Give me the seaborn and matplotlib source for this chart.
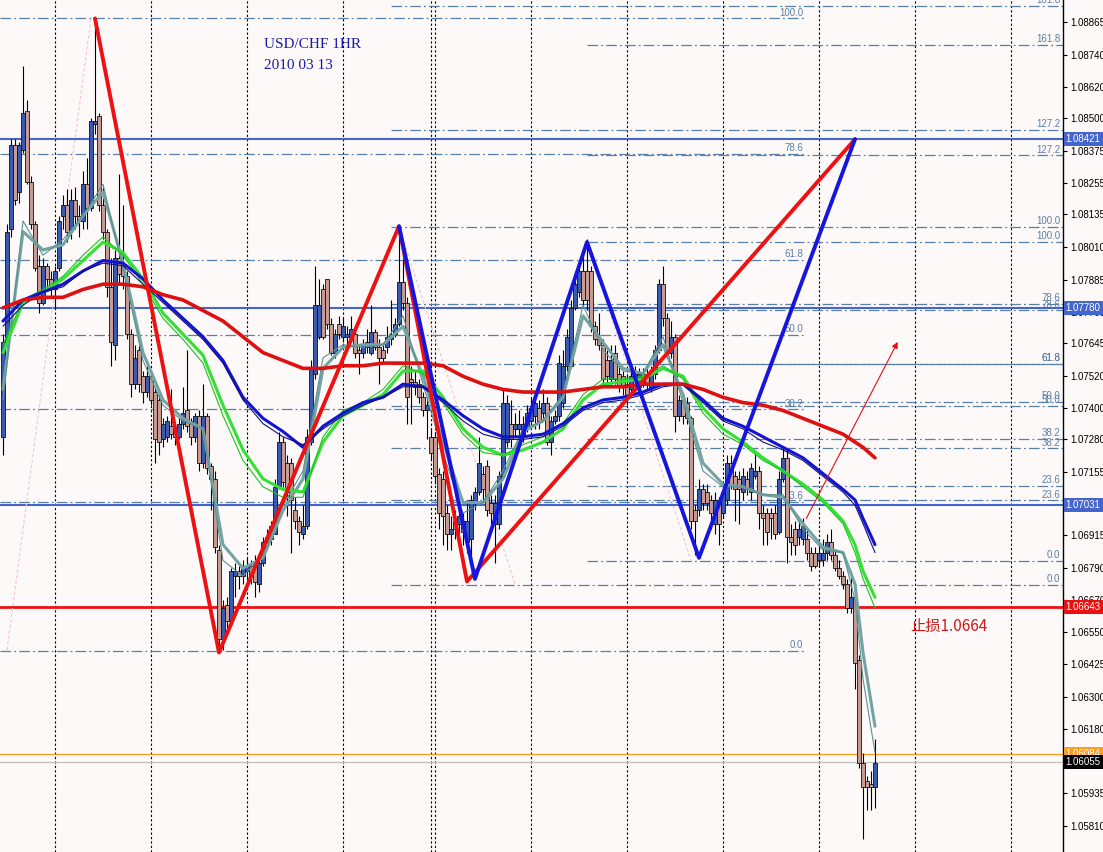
import matplotlib
matplotlib.use("Agg")
import matplotlib.pyplot as plt
import numpy as np
import pandas as pd
import seaborn as sns

# USD/CHF hourly bars, prices in pips (1 pip = 0.0001)
open_pips = [
    10729, 10765, 10808, 10840, 10822, 10838, 10853, 10826, 10810, 10794,
    10780, 10794, 10789, 10785, 10793, 10813, 10817, 10808, 10819, 10813,
    10811, 10825, 10816, 10848, 10851, 10817, 10807, 10786, 10764, 10797,
    10794, 10790, 10768, 10749, 10762, 10752, 10746, 10752, 10746, 10743,
    10728, 10729, 10733, 10731, 10729, 10734, 10739, 10735, 10729, 10737,
    10719, 10737, 10718, 10713, 10686, 10652, 10665, 10659, 10676, 10678,
    10676, 10678, 10680, 10681, 10673, 10681, 10689, 10690, 10692, 10710,
    10727, 10719, 10719, 10701, 10697, 10692, 10695, 10727, 10753, 10767,
    10785, 10789, 10772, 10761, 10772, 10767, 10767, 10767, 10768, 10762,
    10761, 10763, 10761, 10769, 10763, 10762, 10763, 10766, 10768, 10772,
    10788, 10780, 10751, 10750, 10749, 10744, 10739, 10729, 10729, 10715,
    10713, 10700, 10692, 10697, 10696, 10697, 10689, 10690, 10704, 10708,
    10715, 10718, 10704, 10696, 10696, 10714, 10727, 10734, 10732, 10732,
    10729, 10733, 10735, 10737, 10740, 10738, 10742, 10727, 10735, 10737,
    10742, 10756, 10756, 10778, 10784, 10792, 10792, 10792, 10771, 10766,
    10764, 10758, 10751, 10761, 10753, 10752, 10749, 10747, 10751, 10748,
    10753, 10753, 10748, 10753, 10762, 10787, 10774, 10761, 10767, 10737,
    10743, 10742, 10736, 10701, 10701, 10709, 10708, 10705, 10696, 10704,
    10700, 10705, 10719, 10714, 10713, 10708, 10713, 10708, 10714, 10716,
    10700, 10700, 10700, 10700, 10693, 10713, 10721, 10691, 10694, 10691,
    10690, 10690, 10685, 10685, 10682, 10682, 10685, 10689, 10684, 10679,
    10676, 10673, 10664, 10668, 10644, 10605, 10598, 10597, 10596,
]
high_pips = [
    10768, 10810, 10842, 10842, 10841, 10870, 10857, 10828, 10811, 10798,
    10797, 10795, 10792, 10794, 10813, 10821, 10823, 10823, 10824, 10817,
    10830, 10835, 10850, 10888, 10852, 10824, 10808, 10797, 10800, 10829,
    10817, 10792, 10770, 10764, 10764, 10754, 10756, 10754, 10748, 10745,
    10736, 10737, 10747, 10734, 10736, 10748, 10762, 10736, 10738, 10739,
    10749, 10738, 10719, 10716, 10688, 10667, 10668, 10679, 10681, 10680,
    10682, 10683, 10682, 10684, 10683, 10691, 10694, 10697, 10713, 10731,
    10729, 10722, 10721, 10706, 10699, 10703, 10732, 10758, 10794, 10789,
    10787, 10789, 10774, 10770, 10775, 10774, 10771, 10775, 10770, 10764,
    10766, 10770, 10779, 10770, 10766, 10764, 10771, 10781, 10774, 10809,
    10797, 10782, 10756, 10754, 10751, 10746, 10744, 10732, 10731, 10717,
    10716, 10703, 10699, 10701, 10703, 10700, 10705, 10707, 10710, 10729,
    10718, 10720, 10707, 10707, 10716, 10747, 10745, 10743, 10738, 10739,
    10737, 10741, 10744, 10745, 10743, 10747, 10744, 10737, 10739, 10760,
    10762, 10770, 10781, 10792, 10795, 10798, 10804, 10794, 10773, 10776,
    10766, 10762, 10764, 10764, 10756, 10754, 10753, 10754, 10756, 10755,
    10755, 10755, 10756, 10764, 10789, 10794, 10776, 10773, 10768, 10745,
    10744, 10744, 10737, 10703, 10713, 10711, 10711, 10707, 10708, 10706,
    10711, 10722, 10722, 10716, 10716, 10717, 10716, 10719, 10723, 10718,
    10703, 10702, 10702, 10703, 10716, 10725, 10724, 10696, 10697, 10697,
    10698, 10694, 10687, 10687, 10688, 10690, 10692, 10694, 10686, 10682,
    10678, 10675, 10678, 10670, 10646, 10609, 10600, 10602, 10614,
]
low_pips = [
    10722, 10763, 10805, 10817, 10818, 10837, 10825, 10808, 10792, 10776,
    10779, 10785, 10782, 10778, 10792, 10808, 10803, 10804, 10808, 10805,
    10808, 10808, 10815, 10844, 10815, 10804, 10782, 10756, 10758, 10787,
    10785, 10766, 10744, 10747, 10746, 10742, 10744, 10741, 10719, 10722,
    10725, 10727, 10728, 10726, 10728, 10732, 10731, 10726, 10727, 10716,
    10717, 10715, 10701, 10685, 10647, 10648, 10656, 10657, 10668, 10671,
    10673, 10675, 10673, 10668, 10670, 10680, 10687, 10688, 10692, 10709,
    10710, 10699, 10685, 10694, 10688, 10690, 10694, 10726, 10751, 10766,
    10766, 10770, 10760, 10759, 10766, 10765, 10764, 10765, 10759, 10753,
    10759, 10761, 10760, 10762, 10749, 10757, 10761, 10764, 10767, 10771,
    10777, 10734, 10734, 10745, 10742, 10737, 10728, 10720, 10711, 10694,
    10688, 10686, 10686, 10690, 10692, 10688, 10685, 10684, 10701, 10707,
    10705, 10699, 10696, 10681, 10694, 10713, 10725, 10725, 10729, 10728,
    10727, 10731, 10734, 10732, 10732, 10735, 10726, 10722, 10734, 10735,
    10740, 10754, 10755, 10777, 10782, 10779, 10777, 10769, 10764, 10762,
    10749, 10750, 10749, 10749, 10746, 10745, 10741, 10745, 10749, 10746,
    10748, 10747, 10746, 10751, 10761, 10771, 10759, 10759, 10731, 10735,
    10734, 10734, 10694, 10684, 10699, 10701, 10701, 10694, 10692, 10688,
    10698, 10703, 10709, 10697, 10696, 10705, 10707, 10705, 10713, 10694,
    10688, 10688, 10690, 10690, 10692, 10712, 10681, 10684, 10684, 10688,
    10688, 10682, 10678, 10679, 10680, 10680, 10682, 10682, 10678, 10675,
    10671, 10662, 10662, 10633, 10603, 10576, 10587, 10587, 10588,
]
close_pips = [
    10765, 10807, 10840, 10819, 10840, 10852, 10826, 10810, 10793, 10780,
    10794, 10789, 10785, 10792, 10811, 10817, 10807, 10819, 10813, 10811,
    10825, 10816, 10849, 10849, 10817, 10807, 10786, 10765, 10797, 10791,
    10790, 10768, 10749, 10759, 10749, 10746, 10752, 10743, 10728, 10727,
    10734, 10735, 10730, 10729, 10734, 10738, 10733, 10729, 10737, 10719,
    10737, 10717, 10713, 10687, 10652, 10664, 10659, 10678, 10678, 10676,
    10679, 10680, 10676, 10674, 10681, 10689, 10691, 10695, 10710, 10727,
    10712, 10708, 10705, 10697, 10693, 10695, 10729, 10755, 10779, 10779,
    10767, 10772, 10761, 10768, 10768, 10771, 10768, 10770, 10761, 10761,
    10764, 10765, 10769, 10763, 10759, 10759, 10767, 10768, 10772, 10788,
    10780, 10744, 10750, 10748, 10744, 10739, 10741, 10723, 10714, 10700,
    10699, 10692, 10694, 10694, 10699, 10693, 10697, 10705, 10708, 10719,
    10709, 10701, 10700, 10704, 10714, 10742, 10742, 10728, 10734, 10734,
    10734, 10738, 10740, 10742, 10735, 10742, 10727, 10735, 10737, 10757,
    10756, 10767, 10778, 10787, 10792, 10781, 10781, 10771, 10766, 10764,
    10751, 10752, 10758, 10751, 10748, 10748, 10744, 10752, 10753, 10753,
    10750, 10749, 10753, 10762, 10787, 10774, 10761, 10767, 10737, 10743,
    10737, 10736, 10697, 10697, 10709, 10704, 10704, 10700, 10705, 10696,
    10708, 10719, 10711, 10709, 10709, 10714, 10709, 10717, 10716, 10700,
    10698, 10693, 10698, 10692, 10713, 10721, 10691, 10689, 10688, 10694,
    10695, 10685, 10680, 10680, 10685, 10685, 10689, 10684, 10679, 10676,
    10673, 10664, 10668, 10643, 10605, 10596, 10596, 10596, 10605,
]

# moving averages read every 5 bars
ma_bars = list(range(0, 211, 5)) + [213, 215, 218]
ma_red = [10778, 10781, 10782, 10782, 10785, 10787, 10787, 10786, 10783, 10781,
          10777, 10773, 10767, 10761, 10758, 10755, 10755, 10756, 10756, 10757,
          10757, 10757, 10756, 10752, 10749, 10747, 10746, 10746, 10746, 10747,
          10748, 10748, 10749, 10749, 10749, 10747, 10744, 10742, 10741, 10739,
          10736, 10733, 10730, 10727, 10725, 10721]
ma_blue = [10773, 10781, 10784, 10787, 10792, 10796, 10795, 10789, 10781, 10774,
           10767, 10758, 10744, 10736, 10731, 10725, 10733, 10738, 10742, 10744,
           10749, 10748, 10743, 10737, 10732, 10729, 10729, 10730, 10734, 10740,
           10743, 10744, 10746, 10749, 10749, 10743, 10736, 10733, 10729, 10725,
           10721, 10715, 10709, 10705, 10698, 10688]
ma_blue_thin = [10771, 10779, 10784, 10786, 10792, 10795, 10794, 10787, 10780, 10773,
                10766, 10757, 10743, 10734, 10729, 10726, 10732, 10737, 10741, 10744,
                10748, 10748, 10742, 10735, 10730, 10728, 10728, 10729, 10733, 10739,
                10742, 10743, 10745, 10748, 10749, 10742, 10735, 10732, 10727, 10724,
                10720, 10714, 10708, 10703, 10696, 10685]
ma_green = [10761, 10780, 10784, 10789, 10796, 10803, 10799, 10789, 10776, 10768,
            10760, 10741, 10724, 10713, 10709, 10708, 10727, 10737, 10741, 10745,
            10754, 10754, 10744, 10732, 10725, 10722, 10724, 10727, 10732, 10743,
            10749, 10750, 10751, 10755, 10752, 10740, 10732, 10727, 10721, 10716,
            10711, 10705, 10697, 10688, 10678, 10668]
ma_green_thin = [10764, 10781, 10785, 10790, 10798, 10805, 10798, 10787, 10774, 10766,
                 10757, 10737, 10720, 10710, 10706, 10706, 10729, 10739, 10742, 10747,
                 10756, 10753, 10742, 10730, 10723, 10722, 10726, 10729, 10734, 10745,
                 10751, 10751, 10752, 10756, 10751, 10738, 10730, 10726, 10720, 10716,
                 10710, 10704, 10696, 10685, 10675, 10664]
ma_teal = [10747, 10807, 10800, 10802, 10813, 10822, 10795, 10761, 10743, 10736,
           10732, 10688, 10679, 10683, 10701, 10713, 10755, 10763, 10764, 10764,
           10771, 10752, 10727, 10704, 10704, 10713, 10731, 10735, 10744, 10775,
           10765, 10755, 10753, 10764, 10745, 10719, 10711, 10710, 10707, 10706,
           10696, 10687, 10685, 10673, 10647, 10619]
ma_teal_thin = [10743, 10811, 10798, 10804, 10813, 10825, 10793, 10758, 10741, 10735,
                10732, 10682, 10676, 10684, 10703, 10716, 10759, 10764, 10763, 10764,
                10775, 10749, 10723, 10700, 10704, 10716, 10732, 10735, 10745, 10779,
                10762, 10754, 10753, 10767, 10742, 10716, 10710, 10710, 10707, 10707,
                10694, 10686, 10685, 10667, 10637, 10609]

# hand drawn swings
red_swing_bars = [23, 54, 99, 116, 213]
red_swing_price = [1.0888, 1.0647, 1.0809, 1.0674, 1.08421]
blue_swing_bars = [99, 118, 146, 174, 213]
blue_swing_price = [1.0809, 1.0675, 1.0803, 1.0683, 1.08421]
faint_from_bar = [1, 99, 146]
faint_from_price = [1.0648, 1.0809, 1.0803]
faint_to_bar = [22, 128, 172]
faint_to_price = [1.0888, 1.0673, 1.0682]
arrow_bars = [200.5, 224]
arrow_price = [1.0697, 1.0766]

# fibonacci retracements
fib_low = [1.06476, 1.06727, 1.06818]
fib_high = [1.08880, 1.08087, 1.08030]
fib_start = [-0.75, 97, 146]
fib_end = [200.75, 265, 265]
fib_levels_short = [0, 23.6, 38.2, 50, 61.8, 78.6, 100]
fib_levels_long = [0, 23.6, 38.2, 50, 61.8, 78.6, 100, 127.2, 161.8]

# horizontal price lines
line_prices = [1.08421, 1.07780, 1.07031, 1.06643, 1.06084, 1.06055]
line_colors = ["#4466cc", "#4466cc", "#4466cc", "#ee1111", "#ff9a22", "#c0c0c0"]
line_widths = [1.5, 1.5, 1.5, 2.0, 0.9, 0.9]
box_colors = ["#4466cc", "#4466cc", "#4466cc", "#e81010", "#ff9a22", "black"]

tick_prices = [1.08865, 1.08740, 1.08620, 1.08500, 1.08375, 1.08255, 1.08135,
               1.08010, 1.07885, 1.07765, 1.07645, 1.07520, 1.07400, 1.07280,
               1.07155, 1.07035, 1.06915, 1.06790, 1.06670, 1.06550, 1.06425,
               1.06300, 1.06180, 1.06055, 1.05935, 1.05810]
grid_bars = [13, 37, 61, 85, 107, 108, 132, 156, 180, 204, 228, 252]

BG = "#fdf9f9"
FIB = "#5b80a6"
BULL = "#3a5ab0"
BEAR = "#c89a94"

sns.set_theme(style="white")
plt.rcParams["font.family"] = ["Liberation Sans", "DejaVu Sans"]

fig = plt.figure(figsize=(11.03, 8.52), dpi=100, facecolor=BG)
ax = fig.add_axes([0, 0, 1063 / 1103, 1])
ax.set_facecolor(BG)

bars = pd.DataFrame({
    "open": open_pips, "high": high_pips, "low": low_pips, "close": close_pips,
}) / 10000
bars["bar"] = np.arange(len(bars))
up = bars["close"] >= bars["open"]

# time grid
for g in grid_bars:
    ax.axvline(g, color="black", lw=0.8, ls=(0, (2, 2)), zorder=1)

# fibonacci levels
for lo, hi, x0, x1 in zip(fib_low, fib_high, fib_start, fib_end):
    levels = fib_levels_short if x1 < 265 else fib_levels_long
    for lvl in levels:
        p = lo + (hi - lo) * lvl / 100
        ax.plot([x0, x1], [p, p], color=FIB, lw=0.9, ls=(0, (8.5, 2.5, 1.5, 2.5)), zorder=1.5)
        ax.annotate(f"{lvl:.1f}", xy=(x1, p), xytext=(-2, 0.5), textcoords="offset points",
                    ha="right", va="bottom", fontsize=7, color=FIB, zorder=1.6)

# horizontal lines
for p, c, w in zip(line_prices, line_colors, line_widths):
    ax.axhline(p, color=c, lw=w, zorder=2)

# faint zigzag
for xa, pa, xb, pb in zip(faint_from_bar, faint_from_price, faint_to_bar, faint_to_price):
    ax.plot([xa, xb], [pa, pb], color="#efc6ca", lw=0.8, ls=(0, (3, 2)), zorder=2.2)

# candles
ax.vlines(bars["bar"], bars["low"], bars["high"], color="black", lw=0.8, zorder=3)
ax.bar(bars["bar"], bars["close"] - bars["open"], bottom=bars["open"], width=0.8,
       color=np.where(up, BULL, BEAR), edgecolor="#111111", linewidth=0.6, zorder=3.1)

# moving averages
ma = pd.DataFrame({
    "bar": ma_bars, "red": ma_red, "blue": ma_blue, "blue_thin": ma_blue_thin,
    "green": ma_green, "green_thin": ma_green_thin, "teal": ma_teal, "teal_thin": ma_teal_thin,
})
ma_cols = ["red", "blue", "blue_thin", "green", "green_thin", "teal", "teal_thin"]
ma[ma_cols] = ma[ma_cols] / 10000
ma_styles = [
    ("teal", "#73a3a3", 2.2), ("teal_thin", "#5e9090", 0.8),
    ("green", "#33e033", 2.2), ("green_thin", "#22c022", 0.8),
    ("blue", "#1414d0", 2.2), ("blue_thin", "#10107a", 0.8),
    ("red", "#dd1111", 2.6),
]
for col, color, lw in ma_styles:
    sns.lineplot(data=ma, x="bar", y=col, color=color, lw=lw, ax=ax, legend=False, zorder=4)

# swing lines
ax.plot(red_swing_bars, red_swing_price, color="#ee1111", lw=2.8, zorder=5)
ax.plot(blue_swing_bars, blue_swing_price, color="#1515dd", lw=2.8, zorder=5)
ax.annotate("", xy=(arrow_bars[1], arrow_price[1]), xytext=(arrow_bars[0], arrow_price[0]),
            arrowprops=dict(arrowstyle="-|>", color="#e01010", lw=0.8, mutation_scale=9),
            zorder=5)

# price boxes on the axis
for p, c in zip(line_prices, box_colors):
    ax.annotate(f"{p:.5f}", xy=(1, p), xycoords=("axes fraction", "data"), xytext=(2, 0),
                textcoords="offset points", ha="left", va="center", fontsize=7, color="white",
                bbox=dict(boxstyle="square,pad=0.2", fc=c, ec="none"),
                annotation_clip=False, zorder=10)

ax.text(0.2484, 0.955, "USD/CHF 1HR", transform=ax.transAxes, ha="left", va="top",
        fontsize=11, color="#1a1aa8", family="Liberation Serif")
ax.text(0.2484, 0.931, "2010 03 13", transform=ax.transAxes, ha="left", va="top",
        fontsize=11, color="#1a1aa8", family="Liberation Serif")
ax.text(226.8, 1.0657, "止损1.0664", ha="left", va="center", fontsize=11, color="#d01818",
        family=["Noto Sans CJK SC", "DejaVu Sans"], zorder=6)

ax.set_xlim(-0.75, 265)
ax.set_ylim(1.05712, 1.08950)
ax.set_xlabel("")
ax.set_ylabel("")
ax.set_xticks([])
ax.yaxis.tick_right()
ax.set_yticks(tick_prices)
ax.set_yticklabels([f"{t:.5f}" for t in tick_prices])
ax.tick_params(axis="y", length=3, width=0.8, pad=2, labelsize=7, colors="black", right=True)
for side in ["left", "top", "bottom"]:
    ax.spines[side].set_visible(False)
ax.spines["right"].set_color("black")
ax.spines["right"].set_linewidth(1)
ax.grid(False)

fig.savefig("out.png", dpi=100, facecolor=BG)
